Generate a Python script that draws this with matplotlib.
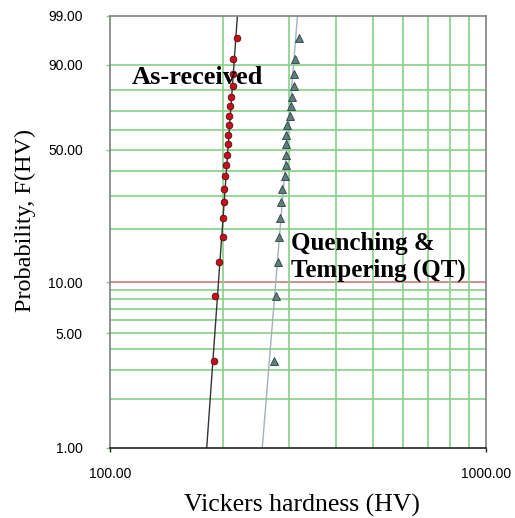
import numpy as np
import matplotlib
matplotlib.use("Agg")
import matplotlib.pyplot as plt

# median-rank probabilities (%), 20 specimens per condition
prob = [3.4, 8.3, 13.2, 18.1, 23.0, 27.9, 32.8, 37.7, 42.6, 47.5,
        52.5, 57.4, 62.3, 67.2, 72.1, 77.0, 81.9, 86.8, 91.7, 96.6]

# Vickers hardness values (HV)
hv_as_received = [188.7, 190.6, 195.3, 199.8, 200.1, 200.6, 201.0, 202.2, 203.5, 204.4,
                  206.2, 206.5, 207.3, 207.6, 208.5, 210.2, 211.8, 212.2, 212.6, 218.1]
hv_qt = [272.5, 275.9, 279.3, 281.5, 283.0, 284.4, 287.5, 292.5, 293.2, 293.5,
         294.2, 294.5, 296.1, 300.5, 302.9, 305.3, 308.0, 309.1, 310.5, 318.8]

# Weibull fit lines (shape, scale)
fit_as_received = (32.6, 208.2)
fit_qt = (28.4, 298.7)

yticks = [1, 5, 10, 50, 90, 99]
ygrid = [2, 3, 4, 5, 6, 7, 8, 9, 20, 30, 40, 50, 60, 70, 80, 90]
xgrid = [200, 300, 400, 500, 600, 700, 800, 900]


def fwd(p):
    p = np.clip(np.asarray(p, dtype=float), 1e-6, 100 - 1e-6)
    return np.log(-np.log(1 - p / 100.0))


def inv(t):
    return 100.0 * (1 - np.exp(-np.exp(t)))


fig = plt.figure(figsize=(5.15, 5.18), dpi=100)
ax = fig.add_axes([110 / 515, 70 / 518, 376 / 515, 432 / 518])
ax.set_xscale("log")
ax.set_yscale("function", functions=(fwd, inv))
ax.set_xlim(100, 1000)
ax.set_ylim(1, 99)

green = "#86cf86"
for g in ygrid:
    ax.axhline(g, color=green, lw=1.2, zorder=1)
ax.axhline(10, color="#cc7a7a", lw=1.2, zorder=1)
for g in xgrid:
    ax.axvline(g, color=green, lw=1.2, zorder=1)

# fitted Weibull lines
pp = np.linspace(1, 99, 300)
for (m, x0), c in [(fit_as_received, "#333333"), (fit_qt, "#9fb3bb")]:
    xx = x0 * (-np.log(1 - pp / 100.0)) ** (1 / m)
    ax.plot(xx, pp, color=c, lw=1.0, zorder=2)

ax.plot(hv_as_received, prob, "o", ms=4.8, mfc="#c8101c", mec="#5a0a0a", mew=0.6, zorder=3)
ax.plot(hv_qt, prob, "^", ms=5.2, mfc="#5f7f7f", mec="#2a4040", mew=0.6, zorder=3)

ax.set_yticks(yticks)
ax.set_yticklabels([f"{v:.2f}" for v in yticks])
ax.yaxis.set_minor_locator(matplotlib.ticker.NullLocator())
ax.set_xticks([100, 1000])
ax.set_xticklabels(["100.00", "1000.00"])
ax.xaxis.set_minor_locator(matplotlib.ticker.NullLocator())
ax.tick_params(axis="y", length=3, width=1, color="#86cf86", pad=16.5,
               labelsize=10, labelfontfamily="Liberation Sans")
ax.tick_params(axis="x", length=3, width=1, color="#222222", pad=11,
               labelsize=10, labelfontfamily="Liberation Sans")

for s in ["top", "right", "left"]:
    ax.spines[s].set_color("#808080")
    ax.spines[s].set_linewidth(1.2)
ax.spines["bottom"].set_color("#222222")
ax.spines["bottom"].set_linewidth(1.2)

# axis titles placed in figure pixels
fig.text(302 / 515, 1 - 505 / 518, "Vickers hardness (HV)", fontfamily="Liberation Serif",
         fontsize=18.5, ha="center", va="center")
fig.text(25 / 515, 1 - 220 / 518, "Probability, F(HV)", fontfamily="Liberation Serif",
         fontsize=17.5, ha="center", va="center", rotation=90)

fig.text(132 / 515, 1 - 78 / 518, "As-received", fontfamily="Liberation Serif",
         fontweight="bold", fontsize=19, va="center", ha="left")
fig.text(291 / 515, 1 - 257 / 518, "Quenching &\nTempering (QT)", fontfamily="Liberation Serif",
         fontweight="bold", fontsize=18, va="center", ha="left", linespacing=1.15)

fig.savefig("out.png", dpi=100)
